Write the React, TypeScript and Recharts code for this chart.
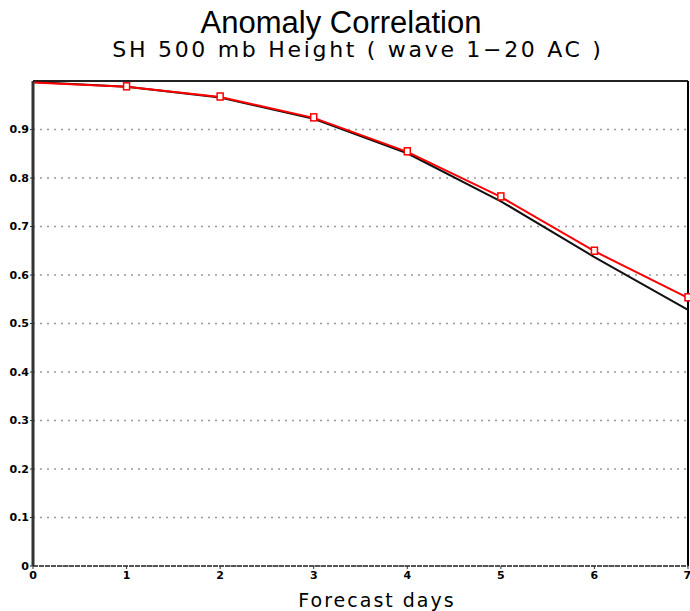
import React from "react";
import {
  LineChart,
  Line,
  XAxis,
  YAxis,
  CartesianGrid,
  ReferenceLine,
} from "recharts";

// forecast days
const days = [0, 1, 2, 3, 4, 5, 6, 7];
// red run (with square markers)
const redAC = [0.997, 0.988, 0.967, 0.924, 0.854, 0.761, 0.649, 0.553];
// black run
const blackAC = [0.998, 0.988, 0.966, 0.922, 0.851, 0.752, 0.637, 0.528];

const yTicks = [0, 0.1, 0.2, 0.3, 0.4, 0.5, 0.6, 0.7, 0.8, 0.9];
const yLabels = ["0", "0.1", "0.2", "0.3", "0.4", "0.5", "0.6", "0.7", "0.8", "0.9"];

const data = days.map((d, i) => ({ day: d, red: redAC[i], black: blackAC[i] }));

const tickFont = {
  fontSize: 11,
  fontWeight: 700,
  fill: "#000",
  fontFamily: "DejaVu Sans",
};

function SquareDot(props: any) {
  const { cx, cy, index } = props;
  if (cx == null || cy == null || index === 0) return null;
  return (
    <rect
      key={`sq-${index}`}
      x={cx - 3}
      y={cy - 4}
      width={6}
      height={7}
      fill="#fff"
      stroke="#ff0000"
      strokeWidth={1.5}
    />
  );
}

export default function App() {
  return (
    <div
      style={{
        position: "absolute",
        left: 0,
        top: 0,
        width: 690,
        height: 611,
        background: "#fff",
      }}
    >
      <div
        style={{
          position: "absolute",
          left: -4,
          top: 5,
          width: 690,
          textAlign: "center",
          fontFamily: "Liberation Sans",
          fontSize: 31,
          lineHeight: "36px",
          color: "#000",
        }}
      >
        Anomaly Correlation
      </div>
      <div
        style={{
          position: "absolute",
          left: 13,
          top: 37,
          width: 690,
          textAlign: "center",
          fontFamily: "DejaVu Sans",
          fontSize: 22,
          lineHeight: "26px",
          letterSpacing: 2.7,
          color: "#000",
        }}
      >
        SH 500 mb Height ( wave 1−20 AC )
      </div>
      <div
        style={{
          position: "absolute",
          left: 32,
          top: 590,
          width: 690,
          textAlign: "center",
          fontFamily: "DejaVu Sans",
          fontSize: 19,
          lineHeight: "21px",
          letterSpacing: 2,
          color: "#000",
        }}
      >
        Forecast days
      </div>

      <div style={{ position: "absolute", left: 0, top: 0 }}>
        <LineChart
          width={690}
          height={611}
          data={data}
          margin={{ top: 81, right: 2, left: 0, bottom: 0 }}
        >
          <CartesianGrid
            horizontal
            vertical={false}
            stroke="#999"
            strokeDasharray="2 5"
            strokeWidth={1.5}
          />
          <XAxis
            dataKey="day"
            type="number"
            domain={[0, 7]}
            ticks={days}
            height={45}
            tick={tickFont}
            tickSize={3}
            tickMargin={2}
            axisLine={{ stroke: "#555", strokeWidth: 2, strokeDasharray: "5 1" }}
            tickLine={{ stroke: "#333" }}
          />
          <YAxis
            type="number"
            domain={[0, 1]}
            ticks={yTicks}
            tickFormatter={(v: number) => yLabels[yTicks.indexOf(v)] ?? ""}
            width={33}
            tick={tickFont}
            tickSize={3}
            tickMargin={1}
            axisLine={{ stroke: "#333", strokeWidth: 3 }}
            tickLine={{ stroke: "#333" }}
          />
          <ReferenceLine y={1} stroke="#222" strokeWidth={2} ifOverflow="extendDomain" />
          <ReferenceLine x={7} stroke="#000" strokeWidth={2} />
          <Line
            type="linear"
            dataKey="black"
            stroke="#111"
            strokeWidth={2}
            dot={false}
            activeDot={false}
            isAnimationActive={false}
          />
          <Line
            type="linear"
            dataKey="red"
            stroke="#ff0000"
            strokeWidth={2}
            dot={<SquareDot />}
            activeDot={false}
            isAnimationActive={false}
          />
        </LineChart>
      </div>
    </div>
  );
}
